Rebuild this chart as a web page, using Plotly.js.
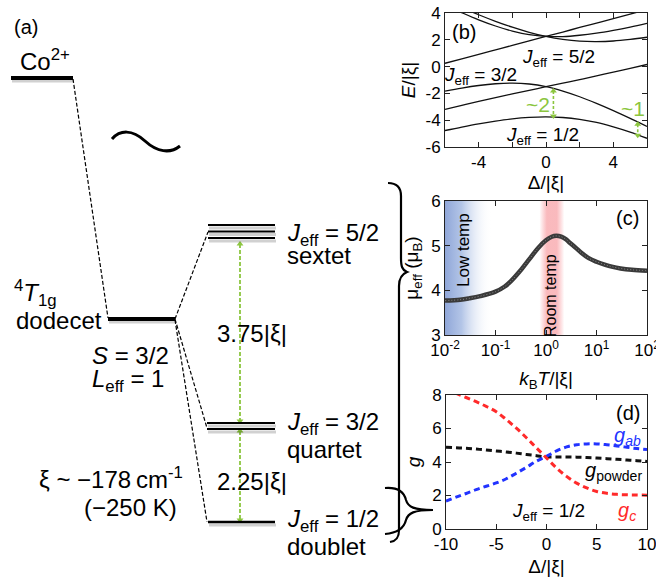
<!DOCTYPE html>
<html><head><meta charset="utf-8">
<script src="https://cdn.plot.ly/plotly-3.0.1.min.js"></script>
<style>html,body{margin:0;padding:0;background:#fff}</style>
</head><body><div id="chart" style="width:656px;height:580px"></div>
<script>
// ---------- Panel (b): E/|xi| vs Delta/|xi| ----------
const delta = [-6,-5,-4,-3,-2,-1,0,1,2,3,4,5,6];
const E_half   = [-4.77,-4.51,-4.27,-4.07,-3.90,-3.79,-3.75,-3.80,-3.94,-4.17,-4.50,-4.89,-5.35];
const E_midA   = [-3.19,-2.89,-2.60,-2.32,-2.04,-1.77,-1.50,-1.23,-0.97,-0.69,-0.42,-0.13,0.16];
const E_midB   = [-1.83,-1.60,-1.41,-1.28,-1.23,-1.30,-1.50,-1.83,-2.25,-2.75,-3.29,-3.87,-4.47];
const E_topA   = [4.95,4.40,3.87,3.38,2.94,2.56,2.25,2.03,1.90,1.87,1.91,2.03,2.19];
const E_topB   = [4.58,4.02,3.49,3.03,2.65,2.38,2.25,2.24,2.34,2.50,2.71,2.95,3.22];
const E_topC   = [0.25,0.58,0.92,1.25,1.58,1.92,2.25,2.58,2.92,3.25,3.58,3.92,4.25];
const bCurves = [E_half,E_midA,E_midB,E_topA,E_topB,E_topC];
// gap markers (~2 and ~1)
const gapDelta = [0.44, 5.45];
const gapTop   = [-1.82, -4.31];
const gapBot   = [-3.69, -5.13];
const gapLabels = ['~2','~1'];

// ---------- Panel (c): mu_eff vs kBT/|xi| ----------
const kT    = [0.01,0.02,0.03,0.05,0.1,0.15,0.2,0.3,0.4,0.5,0.7,1.0,1.3,1.6,2.0,2.5,3,4,5,7,10,15,20,30,50,100];
const muEff = [3.77,3.79,3.82,3.87,3.97,4.08,4.20,4.42,4.60,4.74,4.95,5.12,5.20,5.22,5.20,5.14,5.06,4.94,4.84,4.72,4.64,4.57,4.53,4.49,4.46,4.44];
const lowTempRange  = [0.01, 0.085];
const roomTempRange = [0.74, 2.3];

// ---------- Panel (d): g vs Delta/|xi| ----------
const deltaG  = [-10,-9,-8,-7,-6,-5,-4,-3,-2,-1,0,1,2,3,4,5,6,7,8,9,10];
const gC      = [8.35,8.10,7.85,7.60,7.32,7.00,6.53,6.02,5.45,4.84,4.24,3.64,3.14,2.74,2.45,2.24,2.13,2.07,2.04,2.03,2.02];
const gAB     = [1.66,1.90,2.12,2.35,2.55,2.75,3.00,3.33,3.68,4.05,4.34,4.66,4.90,5.03,5.08,5.08,5.03,4.96,4.88,4.80,4.74];
const gPowder = [4.88,4.85,4.82,4.77,4.72,4.66,4.60,4.53,4.45,4.38,4.30,4.30,4.30,4.29,4.27,4.24,4.20,4.16,4.12,4.08,4.03];

// ---------- tick labels ----------
const bXVals = [-6,-4,-2,0,2,4,6],  bXText = ['','-4','','0','','4',''];
const bYVals = [-6,-4,-2,0,2,4],    bYText = ['-6','-4','-2','0','2','4'];
const cXVals = [0.01,0.1,1,10,100], cXText = ['10<sup>-2</sup>','10<sup>-1</sup>','10<sup>0</sup>','10<sup>1</sup>','10<sup>2</sup>'];
const cYVals = [3,4,5,6],           cYText = ['3','4','5','6'];
const dXVals = [-10,-5,0,5,10],     dXText = ['-10','-5','0','5','10'];
const dYVals = [0,2,4,6,8],         dYText = ['0','2','4','6','8'];

// ---------- level scheme (a), in page pixel units of the overlay axis ----------
const FONT = 'Liberation Sans, Arial, sans-serif';
const GREEN = '#8cc63f';
const W = 656, H = 580;

const traces = [];
bCurves.forEach(c => traces.push({x: delta, y: c, xaxis:'x', yaxis:'y', mode:'lines',
  line:{color:'#111', width:1.3, shape:'spline', smoothing:1}, hoverinfo:'skip', showlegend:false}));
for (let i=0;i<gapDelta.length;i++) {
  traces.push({x:[gapDelta[i],gapDelta[i]], y:[gapTop[i],gapBot[i]], xaxis:'x', yaxis:'y',
    mode:'lines+markers', line:{color:GREEN, width:1.6, dash:'3px,2px'},
    marker:{symbol:['triangle-up','triangle-down'], size:6, color:GREEN}, showlegend:false, hoverinfo:'skip'});
}
// shaded regions (c)
traces.push({x:[lowTempRange[0],lowTempRange[1],lowTempRange[1],lowTempRange[0]], y:[3,3,6,6],
  xaxis:'x2', yaxis:'y2', mode:'lines', line:{width:0}, fill:'toself',
  fillgradient:{type:'horizontal', colorscale:[[0,'rgb(143,166,216)'],[0.35,'rgba(170,190,228,0.9)'],[1,'rgba(255,255,255,0)']]},
  showlegend:false, hoverinfo:'skip'});
traces.push({x:[roomTempRange[0],roomTempRange[1],roomTempRange[1],roomTempRange[0]], y:[3,3,6,6],
  xaxis:'x2', yaxis:'y2', mode:'lines', line:{width:0}, fill:'toself',
  fillgradient:{type:'horizontal', colorscale:[[0,'rgba(250,170,175,0)'],[0.3,'rgba(249,178,182,0.9)'],[0.7,'rgba(249,178,182,0.9)'],[1,'rgba(250,170,175,0)']]},
  showlegend:false, hoverinfo:'skip'});
traces.push({x:kT, y:muEff, xaxis:'x2', yaxis:'y2', mode:'lines',
  line:{color:'#3a3a3a', width:4.5, shape:'spline'}, showlegend:false, hoverinfo:'skip'});
traces.push({x:kT, y:muEff, xaxis:'x2', yaxis:'y2', mode:'lines',
  line:{color:'#8a8a8a', width:1, shape:'spline', dash:'1px,2px'}, showlegend:false, hoverinfo:'skip'});
// (d)
[[gPowder,'#111'],[gAB,'#2233ff'],[gC,'#ff2a2a']].forEach(([g,c]) => traces.push({x:deltaG, y:g, xaxis:'x3', yaxis:'y3',
  mode:'lines', line:{color:c, width:3, dash:'6px,4px', shape:'spline'}, showlegend:false, hoverinfo:'skip'}));

// level diagram (page pixel coordinates)
const levels = [
  {x0:11, x1:73,  y:78,    w:4},
  {x0:108,x1:175, y:319,   w:4},
  {x0:208,x1:275, y:225,   w:2.2},
  {x0:208,x1:275, y:231.5, w:2.2},
  {x0:208,x1:275, y:238,   w:2.2},
  {x0:207,x1:275, y:423,   w:2.2},
  {x0:207,x1:275, y:429,   w:2.2},
  {x0:208,x1:275, y:522,   w:2.5}
];
const connectors = [[73,79,108,318],[175,319,208,232],[175,319,207,428],[175,320,207,522]];
const gArrows = [[244,421],[431,520]];

const shapes = [];
levels.forEach(l => {
  shapes.push({type:'line', xref:'x4', yref:'y4', x0:l.x0+1, x1:l.x1+1, y0:l.y+3, y1:l.y+3, line:{color:'rgba(0,0,0,0.18)', width:3}});
});
levels.forEach(l => {
  shapes.push({type:'line', xref:'x4', yref:'y4', x0:l.x0, x1:l.x1, y0:l.y, y1:l.y, line:{color:'#000', width:l.w}});
});
connectors.forEach(c => shapes.push({type:'line', xref:'x4', yref:'y4', x0:c[0], y0:c[1], x1:c[2], y1:c[3], line:{color:'#000', width:1.2, dash:'4px,2px'}}));
// tilde
shapes.push({type:'path', xref:'x4', yref:'y4', path:'M112,139 C120,130 132,129 145,141 C157,152 170,154 180,146', line:{color:'#000', width:3}});
// braces
shapes.push({type:'path', xref:'x4', yref:'y4', path:'M388,183 C397,183 401,187 401,196 L401,258 C401,266 402,270 407,272 C402,274 399,278 399,286 L399,530 C399,538 396,541 390,542', line:{color:'#000', width:2.2}});
shapes.push({type:'path', xref:'x4', yref:'y4', path:'M385,488 C398,487 404,492 406,500 C408,507 414,510 433,510 C414,510 408,513 406,520 C404,528 398,533 385,534', line:{color:'#000', width:2.2}});

gArrows.forEach(a => traces.push({x:[240,240], y:a, xaxis:'x4', yaxis:'y4', mode:'lines+markers',
  line:{color:GREEN, width:1.8, dash:'4px,2px'}, marker:{symbol:['triangle-up','triangle-down'], size:6, color:GREEN},
  showlegend:false, hoverinfo:'skip'}));

function ann(text,x,y,size,opts){ return Object.assign({text:text, x:x, y:y, xref:'x4', yref:'y4', showarrow:false,
  xanchor:'left', yanchor:'middle', font:{family:FONT, size:size, color:'#000'}}, opts||{}); }
const J = '<i>J</i><sub>eff</sub>';
const annotations = [
  ann('(a)',12,27,20),
  ann('Co<sup>2+</sup>',18,60,24),
  ann('<sup>4</sup><i>T</i><sub>1g</sub>',12,293,24),
  ann('dodecet',14,320,24),
  ann('<i>S</i> = 3/2',90,355,24),
  ann('<i>L</i><sub>eff</sub> = 1',90,380,24),
  ann('ξ ~ −178\u2009cm<sup>-1</sup>',37,478,24),
  ann('(−250 K)',82,507,24),
  ann(J+' = 5/2',285,234,24),
  ann('sextet',285,255,24),
  ann(J+' = 3/2',285,423,24),
  ann('quartet',285,449,24),
  ann(J+' = 1/2',285,520,24),
  ann('doublet',285,546,24),
  ann('3.75|ξ|',252,333,24,{xanchor:'center'}),
  ann('2.25|ξ|',252,481,24,{xanchor:'center'}),
  // (b)
  ann('(b)',464,32,20,{xanchor:'center'}),
  ann(J+' = 5/2',558,58,19,{xanchor:'center'}),
  ann(J+' = 3/2',480,76,19,{xanchor:'center'}),
  ann(J+' = 1/2',542,136,19,{xanchor:'center'}),
  ann(gapLabels[0],538,104,21,{xanchor:'center', font:{family:FONT,size:21,color:GREEN}}),
  ann(gapLabels[1],633,108,21,{xanchor:'center', font:{family:FONT,size:21,color:GREEN}}),
  // (c)
  ann('(c)',627,218,20,{xanchor:'center'}),
  ann('Low temp',463,250,17,{xanchor:'center', textangle:-90}),
  ann('Room temp',550,296,16,{xanchor:'center', textangle:-90}),
  // (d)
  ann('(d)',628,413,20,{xanchor:'center'}),
  ann('<i>g<sub>ab</sub></i>',627,436,20,{xanchor:'center', font:{family:FONT,size:20,color:'#2233ff'}}),
  ann('<i>g</i><sub>powder</sub>',613,471,20,{xanchor:'center'}),
  ann('<i>g<sub>c</sub></i>',627,511,20,{xanchor:'center', font:{family:FONT,size:20,color:'#ff2a2a'}}),
  ann(J+' = 1/2',548,512,19,{xanchor:'center'})
];

const tickFont = {family:FONT, size:17, color:'#000'};
const titleFont = {family:FONT, size:19, color:'#000'};
function axis(domain, extra){ return Object.assign({domain:domain, showline:true, linecolor:'#222', linewidth:1, mirror:'ticks',
  ticks:'inside', ticklen:5, tickcolor:'#222', showgrid:false, zeroline:false, tickfont:tickFont, fixedrange:true,
  tickmode:'array', ticklabeloverflow:'allow'}, extra); }
const xd = [445/W, 647/W];
const layout = {
  width:W, height:H, margin:{l:0,r:0,t:0,b:0}, paper_bgcolor:'#fff', plot_bgcolor:'rgba(0,0,0,0)',
  font:{family:FONT, color:'#000'}, showlegend:false,
  xaxis: axis(xd, {anchor:'y', range:[-6,6], tickvals:bXVals, ticktext:bXText, title:{text:'Δ/|ξ|', font:titleFont, standoff:1}}),
  yaxis: axis([1-147/H, 1-13/H], {anchor:'x', range:[-6,4], tickvals:bYVals, ticktext:bYText, title:{text:'<i>E</i>/|ξ|', font:titleFont, standoff:4}}),
  xaxis2: axis(xd, {anchor:'y2', type:'log', range:[-2,2], tickvals:cXVals, ticktext:cXText, title:{text:'<i>k</i><sub>B</sub><i>T</i>/|ξ|', font:titleFont, standoff:12}}),
  yaxis2: axis([1-335/H, 1-201/H], {anchor:'x2', range:[3,6], tickvals:cYVals, ticktext:cYText, title:{text:'μ<sub>eff</sub> (μ<sub>B</sub>)', font:titleFont, standoff:7}}),
  xaxis3: axis([446/W, 647/W], {anchor:'y3', range:[-10,10], tickvals:dXVals, ticktext:dXText, title:{text:'Δ/|ξ|', font:titleFont, standoff:6}}),
  yaxis3: axis([1-529/H, 1-395/H], {anchor:'x3', range:[0,8], tickvals:dYVals, ticktext:dYText, title:{text:'<i>g</i>', font:titleFont, standoff:6}}),
  xaxis4: {domain:[0,1], range:[0,W], visible:false, fixedrange:true, anchor:'y4'},
  yaxis4: {domain:[0,1], range:[H,0], visible:false, fixedrange:true, anchor:'x4'},
  shapes: shapes, annotations: annotations
};
Plotly.newPlot('chart', traces, layout, {displayModeBar:false, staticPlot:true});
</script></body></html>
